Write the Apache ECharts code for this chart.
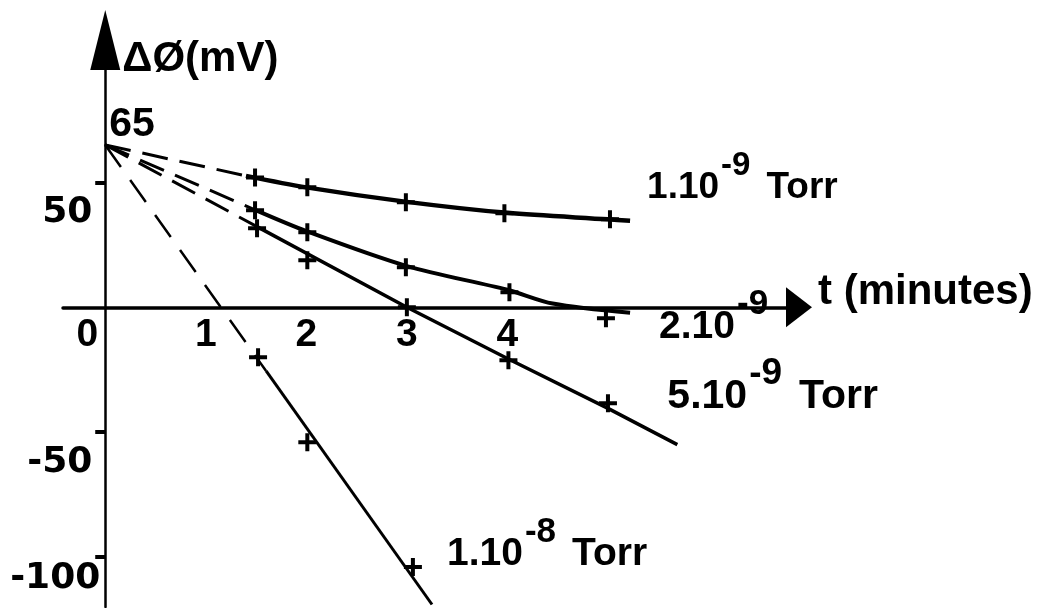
<!DOCTYPE html>
<html><head><meta charset="utf-8">
<script src="https://cdn.jsdelivr.net/npm/echarts@6/dist/echarts.min.js"></script>
<style>html,body{margin:0;padding:0;background:#fff}#c{width:1042px;height:608px}</style>
</head><body><div id="c"></div>
<script>
// ---- data ----
const xTickValues = [0, 1, 2, 3, 4];
const yTickValues = [50, -50, -100];
const startPoint = [0, 65];
const seriesMantissa = ['1.10', '2.10', '5.10', '1.10'];
const seriesExponent = ['-9', '-9', '-9', '-8'];
const seriesUnit = ['Torr', '', 'Torr', 'Torr'];
// measured points (+ marks)
const pts1e9 = [[1.49, 52], [2.01, 48], [2.99, 42], [3.97, 37.6], [5.02, 35.2]];
const pts2e9 = [[1.49, 38.8], [2.01, 30], [2.99, 16], [4.02, 6], [4.98, -4.4]];
const pts5e9 = [[1.51, 31.6], [2.01, 18.8], [3.0, 0], [4.01, -21.2], [5.0, -38.4]];
const pts1e8 = [[1.52, -20], [2.01, -54], [3.06, -104]];
// drawn curves (solid)
const fit1e9 = [[1.4, 52.6], [2, 48], [3, 42.2], [4, 37.8], [5, 35.2], [5.22, 34.6]];
const fit2e9 = [[1.49, 39], [2, 30.5], [3, 16.5], [4, 7], [4.45, 1.5], [5.22, -2.2]];
const fit5e9 = [[1.5, 32.5], [3, 0], [4, -20.5], [5, -40.5], [5.69, -55]];
const fit1e8 = [[1.6, -25.5], [3.25, -119]];
// extrapolations back to t = 0 (dashed)
const ext1e9 = [startPoint, [1.4, 52.6]];
const ext2e9 = [startPoint, [1.49, 39]];
const ext5e9 = [startPoint, [1.5, 32.5]];
const ext1e8 = [startPoint, [1.6, -25.5]];

// ---- layout / styling ----
const FONT = 'Liberation Sans';
const NUMFONT = 'DejaVu Sans';
const BLACK = '#000';
const PLUS = 'path://M7,0h4v7h7v4h-7v7h-4v-7h-7v-4h7z';
const X_MIN = -0.42, X_MAX = 6.9, Y_MIN = -120, Y_MAX = 107;
const G_LEFT = 63, G_RIGHT = 243, G_TOP = 40, G_BOTTOM = 1, W = 1042, H = 608;
const gW = W - G_LEFT - G_RIGHT, gH = H - G_TOP - G_BOTTOM;
const zeroYpx = G_TOP + gH * Y_MAX / (Y_MAX - Y_MIN);
const zeroXpx = G_LEFT + gW * (-X_MIN) / (X_MAX - X_MIN);
const xAxisOffset = -((H - G_BOTTOM) - zeroYpx);
const yAxisOffset = -(zeroXpx - G_LEFT);

function richFor(fs) {
  const raise = Math.round(fs * 0.52);
  return {
    m: { fontFamily: FONT, fontWeight: 'bold', fontSize: fs, padding: [raise, 0, 0, 0], color: BLACK },
    s: { fontFamily: FONT, fontWeight: 'bold', fontSize: Math.round(fs * 0.9), verticalAlign: 'top', padding: [0, 0, 0, 2], color: BLACK },
    u: { fontFamily: FONT, fontWeight: 'bold', fontSize: fs, padding: [raise, 0, 0, Math.round(fs * 0.42)], color: BLACK }
  };
}
function labelText(i) {
  let t = '{m|' + seriesMantissa[i] + '}{s|' + seriesExponent[i] + '}';
  if (seriesUnit[i]) t += '{u|' + seriesUnit[i] + '}';
  return t;
}
const labelFont = [37, 39, 41, 39];
const labelOffsets = [[9, -43], [21, 4], [-18, -58], [7, -60]];
const lineWidths = [4.5, 4, 3.5, 3];

const fits = [fit1e9, fit2e9, fit5e9, fit1e8];
const exts = [ext1e9, ext2e9, ext5e9, ext1e8];
const pts = [pts1e9, pts2e9, pts5e9, pts1e8];
const smooths = [0.3, 0.3, false, false];

const series = [];
fits.forEach((d, i) => {
  series.push({
    type: 'line', data: exts[i], symbol: 'none', z: 2,
    lineStyle: { color: BLACK, width: i === 3 ? 2.5 : 3, type: i === 3 ? [27, 16] : [26, 12] }
  });
  series.push({
    type: 'line', data: d, symbol: 'none', smooth: smooths[i], z: 3,
    lineStyle: { color: BLACK, width: lineWidths[i] },
    endLabel: { show: true, formatter: () => labelText(i), offset: labelOffsets[i], rich: richFor(labelFont[i]), color: BLACK }
  });
  series.push({
    type: 'scatter', data: pts[i], symbol: PLUS, symbolSize: 18, z: 4,
    itemStyle: { color: BLACK, opacity: 1 }
  });
});
series.push({
  type: 'scatter', data: [startPoint], symbol: 'circle', symbolSize: 2, z: 5,
  itemStyle: { color: BLACK, opacity: 1 },
  label: { show: true, position: 'right', distance: 3, offset: [0, -20], formatter: p => String(p.value[1]),
           color: BLACK, fontFamily: FONT, fontWeight: 'bold', fontSize: 41 }
});

const option = {
  animation: false,
  backgroundColor: '#fff',
  grid: { left: G_LEFT, right: G_RIGHT, top: G_TOP, bottom: G_BOTTOM, outerBoundsMode: 'none', containLabel: false },
  xAxis: {
    type: 'value', min: X_MIN, max: X_MAX, position: 'bottom', offset: xAxisOffset,
    axisLine: { onZero: false, lineStyle: { color: BLACK, width: 3.5 }, symbol: ['none', 'triangle'], symbolSize: [40, 26] },
    axisTick: { show: false }, splitLine: { show: false },
    axisLabel: {
      customValues: xTickValues, color: BLACK, fontFamily: FONT, fontWeight: 'bold', fontSize: 39, margin: 8,
      formatter: v => v === 0 ? '{z|0}' : String(v),
      rich: { z: { fontFamily: FONT, fontWeight: 'bold', fontSize: 39, color: BLACK, padding: [0, 36, 0, 0] } }
    },
    name: 't (minutes)', nameLocation: 'end', nameGap: 19, nameMoveOverlap: false,
    nameTextStyle: { color: BLACK, fontFamily: FONT, fontWeight: 'bold', fontSize: 42, align: 'left', verticalAlign: 'bottom', lineHeight: 30 }
  },
  yAxis: {
    type: 'value', min: Y_MIN, max: Y_MAX, position: 'left', offset: yAxisOffset,
    axisLine: { onZero: false, lineStyle: { color: BLACK, width: 2.5 }, symbol: ['none', 'triangle'], symbolSize: [30, 60] },
    axisTick: { show: true, customValues: yTickValues, length: 10, lineStyle: { color: BLACK, width: 4 } },
    splitLine: { show: false },
    axisLabel: {
      customValues: yTickValues, color: BLACK, margin: 5,
      formatter: v => v === -100 ? '{c|' + v + '}' : '{b|' + v + '}',
      rich: {
        b: { fontFamily: NUMFONT, fontWeight: 'bold', fontSize: 36, color: BLACK, padding: [61, 8, 0, 0] },
        c: { fontFamily: NUMFONT, fontWeight: 'bold', fontSize: 36, color: BLACK, padding: [44, 0, 0, 0] }
      }
    },
    name: 'ΔØ(mV)', nameLocation: 'end', nameGap: -19, nameMoveOverlap: false,
    nameTextStyle: { color: BLACK, fontFamily: FONT, fontWeight: 'bold', fontSize: 42, align: 'left', verticalAlign: 'middle', padding: [0, 0, 0, 17] }
  },
  series: series
};
const chart = echarts.init(document.getElementById('c'), null, { renderer: 'canvas' });
chart.setOption(option);
</script>
</body></html>
